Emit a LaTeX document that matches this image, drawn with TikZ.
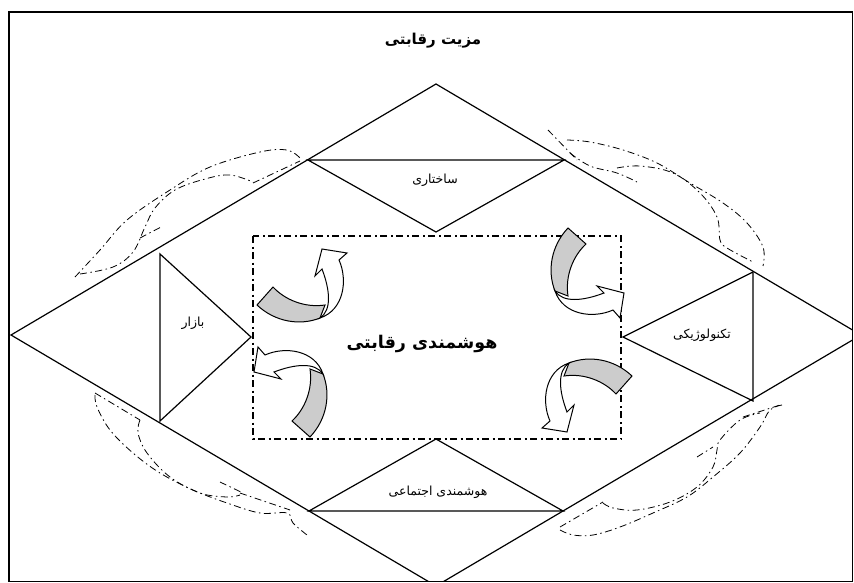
\documentclass[tikz,border=0pt]{standalone}
\usepackage{fontspec}
\TeXXeTstate=1
\newfontfamily\arabicfont[Script=Arabic]{DejaVu Sans}
\tikzset{
  edge/.style={draw=black, line width=1.2pt, line join=miter},
  dd/.style={draw=black, line width=0.8pt, dash pattern=on 7pt off 3.5pt on 1.5pt off 3.5pt},
  ddbox/.style={draw=black, line width=1.2pt, dash pattern=on 7pt off 3.5pt on 2pt off 3.5pt},
  lbl/.style={inner sep=0pt, font=\arabicfont\fontsize{12.5}{15}\selectfont},
  bigl/.style={inner sep=0pt, font=\arabicfont\bfseries\fontsize{17.5}{21}\selectfont},
  ttl/.style={inner sep=0pt, font=\arabicfont\bfseries\fontsize{15}{18}\selectfont},
  pics/curvarrow/.style={code={
    \fill[gray!40, draw=black, line width=1pt] (-45,20) -- (-29,2) .. controls (-17,15) and (3,23) .. (23,20)
      -- (18,33) .. controls (-2,41) and (-27,37) .. cycle;
    \filldraw[fill=white, draw=black, line width=1pt] (18,33) .. controls (30,25) and (28,5) .. (20,-16)
      -- (13,-9) -- (20,-36) -- (45,-32) -- (37,-25) .. controls (46,-5) and (42,25) .. (18,33) -- cycle;
  }}
}
\begin{document}
\begin{tikzpicture}[x=1pt,y=-1pt]
\useasboundingbox (0,0) rectangle (854,583);
\fill[white] (0,0) rectangle (854,583);
% frame
\draw[edge] (9,12) rectangle (852.5,581.5);
% big diamond
\coordinate (dl) at (11,335);
\coordinate (dt) at (436,84);
\coordinate (dr) at (861,335);
\coordinate (db) at (436,586);
\begin{scope}
\clip (9,12) rectangle (852.5,581.5);
\draw[edge] (dl) -- (dt) -- (dr) -- (db) -- cycle;
\end{scope}
% triangles
\coordinate (t1) at (308,160); \coordinate (t2) at (564,160); \coordinate (t3) at (436,232);
\draw[edge] (t1) -- (t2) -- (t3) -- cycle;
\coordinate (b1) at (309,511); \coordinate (b2) at (563,511); \coordinate (b3) at (436,439);
\draw[edge] (b1) -- (b2) -- (b3) -- cycle;
\coordinate (l1) at (160,254); \coordinate (l2) at (160,421); \coordinate (l3) at (251,337);
\draw[edge] (l1) -- (l2) -- (l3) -- cycle;
\coordinate (r1) at (753,272); \coordinate (r2) at (753,401); \coordinate (r3) at (623,337);
\draw[edge] (r1) -- (r2) -- (r3) -- cycle;
% central dash-dot box
\draw[ddbox] (253,236) rectangle (621,439);
% texts
\node[ttl] (title) at (433,41) {\beginR مزیت رقابتی\endR};
\node[lbl] (sakh) at (435,180) {\beginR ساختاری\endR};
\node[lbl] (bazar) at (193,323) {\beginR بازار\endR};
\node[lbl] (tech) at (702,335) {\beginR تکنولوژیکی\endR};
\node[lbl] (ejt) at (438,492) {\beginR هوشمندی اجتماعی\endR};
\node[bigl] (core) at (422,344) {\beginR هوشمندی رقابتی\endR};
% curved arrows in the box
\pic at (302,285) {curvarrow};
\pic[rotate=-90] at (588,273) {curvarrow};
\pic[rotate=90] at (290,392) {curvarrow};
\pic[rotate=180] at (587,396) {curvarrow};
% dash-dot curved shapes: top-left
\draw[dd] plot[smooth, tension=0.6] coordinates {(75,277) (100,250) (127,220) (170,190) (210,167) (260,152) (287,150) (300,158)};
\draw[dd] plot[smooth, tension=0.6] coordinates {(80,274) (113,267) (133,252) (145,227) (155,208) (175,190) (205,179) (230,175) (253,182)};
\draw[dd] (253,183) -- (300,161);
\draw[dd] (140,238) -- (163,226);
% top-right
\draw[dd] (548,130) -- (577,160);
\draw[dd] plot[smooth, tension=0.6] coordinates {(567,140) (590,142) (623,150) (657,163) (690,183) (723,203) (747,223) (763,247) (763,266)};
\draw[dd] plot[smooth, tension=0.6] coordinates {(570,153) (590,166) (617,173) (637,182)};
\draw[dd] plot[smooth, tension=0.6] coordinates {(617,168) (640,166) (673,173) (700,193) (717,217) (720,240) (727,248) (753,262)};
% bottom-left
\draw[dd] plot[smooth, tension=0.6] coordinates {(95,395) (97,407) (110,430) (133,453) (160,473) (193,490) (227,503) (260,513) (287,513) (293,523) (307,535)};
\draw[dd] (95,393) -- (140,420);
\draw[dd] plot[smooth, tension=0.6] coordinates {(140,420) (138,433) (147,453) (170,477) (200,493) (227,497) (240,495)};
\draw[dd] (220,482) -- (243,493);
\draw[dd] (240,493) -- (290,510);
% bottom-right
\draw[dd] plot[smooth, tension=0.6] coordinates {(560,530) (573,535) (593,535) (620,527) (653,513) (687,497) (713,477) (740,453) (760,427) (770,410) (782,405)};
\draw[dd] (560,527) -- (603,502);
\draw[dd] plot[smooth, tension=0.6] coordinates {(603,503) (613,508) (637,510) (670,502) (697,487) (713,467) (717,450) (720,440) (740,420) (760,413)};
\draw[dd] (697,457) -- (713,447);
\draw[dd] (743,417) -- (780,405);
\end{tikzpicture}
\end{document}
